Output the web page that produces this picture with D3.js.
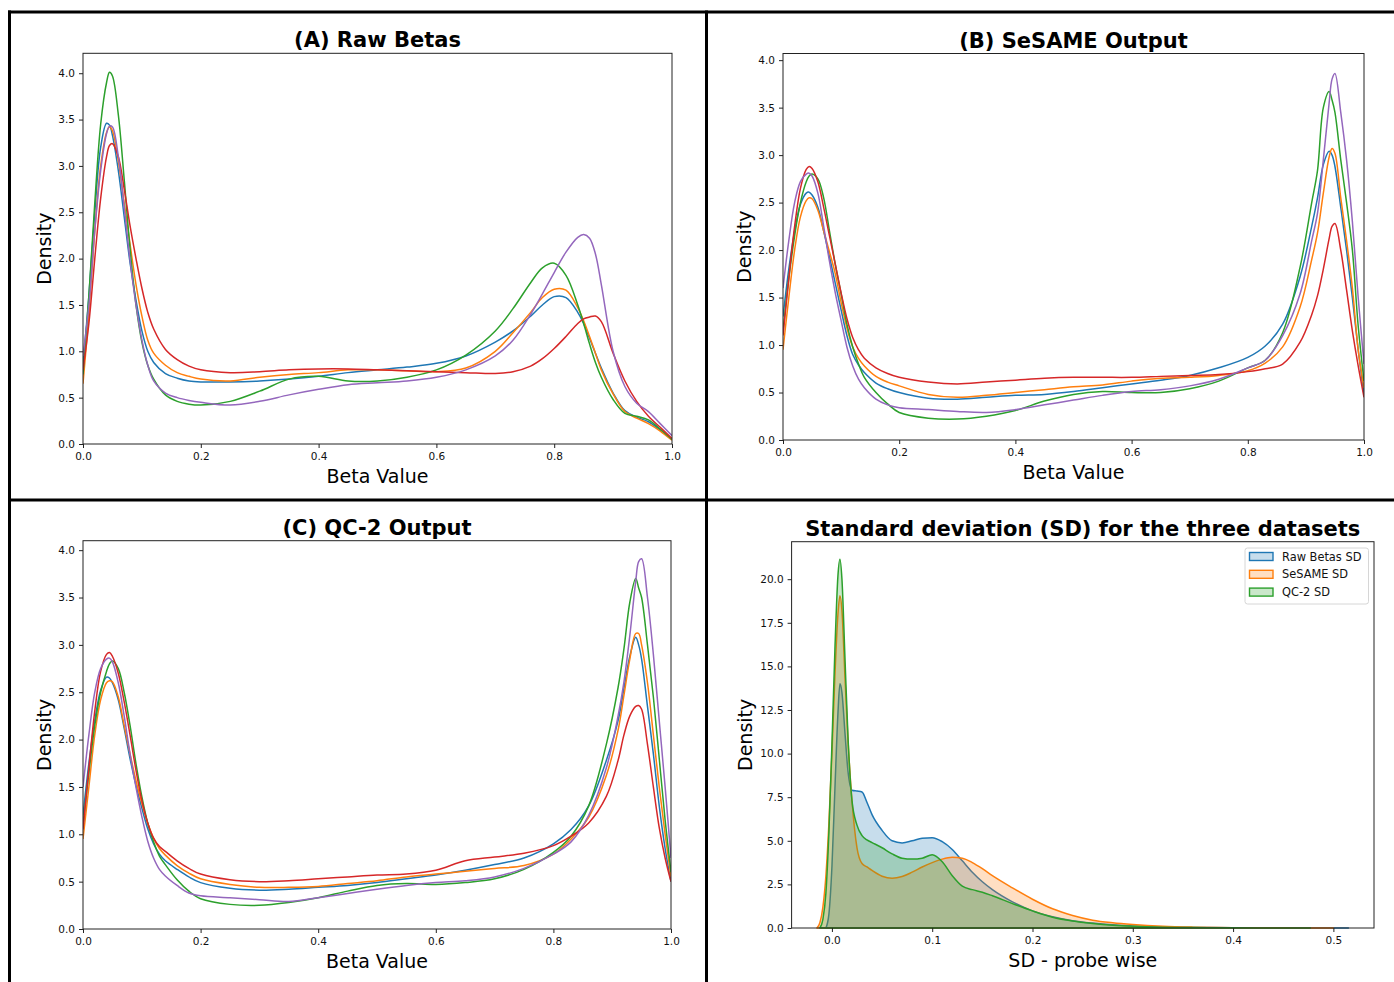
<!DOCTYPE html>
<html>
<head>
<meta charset="utf-8">
<script src="https://cdn.jsdelivr.net/npm/d3@7"></script>
<style>
  html, body { margin: 0; padding: 0; background: #fff; }
  svg { display: block; font-family: "DejaVu Sans", sans-serif; }
</style>
</head>
<body>
<svg id="fig" width="1394" height="982"></svg>
<script>
// ---- Beta-value density estimates (five samples per dataset) ----
const betaGridRaw = [0, 0.01, 0.02, 0.03, 0.04, 0.045, 0.05, 0.06, 0.07, 0.08, 0.09, 0.10, 0.11, 0.12, 0.14, 0.16, 0.18, 0.20,
  0.25, 0.30, 0.35, 0.40, 0.45, 0.50, 0.55, 0.60, 0.65, 0.70, 0.73, 0.76, 0.78, 0.80, 0.82, 0.84, 0.85, 0.86, 0.87, 0.88,
  0.90, 0.92, 0.94, 0.96, 0.98, 1.00];
const rawBlue   = [0.85, 1.6, 2.5, 3.2, 3.46, 3.44, 3.33, 2.95, 2.45, 1.95, 1.55, 1.22, 1.0, 0.88, 0.76, 0.71, 0.68, 0.67, 0.67, 0.68, 0.70, 0.73, 0.77, 0.80, 0.83, 0.87, 0.95, 1.10, 1.22, 1.38, 1.50, 1.59, 1.58, 1.42, 1.30, 1.14, 0.98, 0.82, 0.55, 0.36, 0.29, 0.24, 0.15, 0.05];
const rawOrange = [0.65, 1.4, 2.3, 3.0, 3.36, 3.42, 3.38, 3.05, 2.6, 2.15, 1.72, 1.38, 1.12, 0.98, 0.85, 0.77, 0.73, 0.70, 0.68, 0.72, 0.75, 0.77, 0.80, 0.80, 0.79, 0.78, 0.82, 1.0, 1.20, 1.42, 1.58, 1.67, 1.66, 1.47, 1.33, 1.16, 0.98, 0.80, 0.54, 0.35, 0.28, 0.22, 0.14, 0.04];
const rawGreen  = [0.75, 1.6, 2.6, 3.45, 3.9, 4.01, 3.97, 3.55, 2.85, 2.1, 1.5, 1.1, 0.85, 0.7, 0.53, 0.46, 0.43, 0.42, 0.46, 0.57, 0.70, 0.73, 0.68, 0.68, 0.72, 0.80, 0.96, 1.22, 1.46, 1.74, 1.90, 1.95, 1.82, 1.50, 1.30, 1.08, 0.88, 0.72, 0.48, 0.33, 0.30, 0.26, 0.16, 0.05];
const rawRed    = [0.8, 1.3, 2.0, 2.65, 3.1, 3.22, 3.24, 3.1, 2.75, 2.35, 2.0, 1.68, 1.42, 1.24, 1.02, 0.91, 0.84, 0.80, 0.77, 0.78, 0.80, 0.81, 0.81, 0.80, 0.79, 0.78, 0.77, 0.76, 0.78, 0.84, 0.92, 1.03, 1.16, 1.30, 1.35, 1.37, 1.38, 1.32, 0.98, 0.68, 0.46, 0.30, 0.18, 0.06];
const rawPurple = [0.95, 1.5, 2.3, 2.95, 3.35, 3.43, 3.42, 3.1, 2.55, 1.98, 1.5, 1.12, 0.85, 0.68, 0.55, 0.5, 0.47, 0.45, 0.42, 0.46, 0.53, 0.59, 0.64, 0.66, 0.68, 0.72, 0.80, 0.95, 1.12, 1.40, 1.62, 1.85, 2.07, 2.23, 2.26, 2.22, 2.05, 1.72, 1.0, 0.62, 0.44, 0.35, 0.22, 0.09];

const betaGridNorm = [0, 0.01, 0.02, 0.03, 0.04, 0.045, 0.05, 0.06, 0.07, 0.08, 0.09, 0.10, 0.11, 0.12, 0.13, 0.14, 0.16, 0.18, 0.20,
  0.25, 0.30, 0.35, 0.40, 0.45, 0.50, 0.55, 0.60, 0.65, 0.70, 0.75, 0.80, 0.83, 0.86, 0.89, 0.91, 0.92, 0.93, 0.94, 0.945,
  0.95, 0.96, 0.97, 0.98, 0.99, 1.0];
const sesameBlue   = [1.3, 1.8, 2.2, 2.48, 2.6, 2.61, 2.58, 2.45, 2.2, 1.93, 1.65, 1.37, 1.1, 0.9, 0.79, 0.71, 0.6, 0.54, 0.5, 0.44, 0.43, 0.45, 0.47, 0.48, 0.51, 0.55, 0.59, 0.63, 0.68, 0.76, 0.87, 0.99, 1.22, 1.72, 2.25, 2.55, 2.9, 3.04, 3.0, 2.88, 2.45, 2.0, 1.5, 0.95, 0.48];
const sesameOrange = [0.95, 1.5, 2.0, 2.35, 2.52, 2.55, 2.54, 2.42, 2.2, 1.98, 1.75, 1.45, 1.18, 0.98, 0.86, 0.78, 0.67, 0.61, 0.57, 0.48, 0.45, 0.47, 0.50, 0.53, 0.56, 0.58, 0.62, 0.65, 0.66, 0.68, 0.73, 0.81, 0.98, 1.4, 1.9, 2.18, 2.6, 2.98, 3.07, 3.02, 2.55, 2.1, 1.6, 0.95, 0.55];
const sesameGreen  = [1.15, 1.7, 2.15, 2.5, 2.72, 2.78, 2.8, 2.75, 2.55, 2.2, 1.85, 1.54, 1.22, 0.98, 0.8, 0.66, 0.5, 0.38, 0.29, 0.23, 0.22, 0.25, 0.31, 0.41, 0.48, 0.51, 0.50, 0.50, 0.54, 0.62, 0.76, 0.84, 1.13, 1.82, 2.5, 2.84, 3.5, 3.67, 3.58, 3.45, 2.95, 2.5, 2.0, 1.2, 0.62];
const sesameRed    = [1.1, 1.7, 2.25, 2.65, 2.85, 2.88, 2.86, 2.72, 2.45, 2.15, 1.85, 1.55, 1.28, 1.08, 0.95, 0.86, 0.76, 0.7, 0.66, 0.61, 0.59, 0.61, 0.63, 0.65, 0.66, 0.66, 0.66, 0.67, 0.68, 0.69, 0.72, 0.75, 0.80, 1.03, 1.32, 1.52, 1.8, 2.12, 2.25, 2.28, 2.0, 1.58, 1.15, 0.78, 0.45];
const sesamePurple = [1.6, 2.1, 2.5, 2.72, 2.8, 2.81, 2.78, 2.6, 2.25, 1.88, 1.55, 1.26, 0.98, 0.78, 0.64, 0.55, 0.43, 0.37, 0.34, 0.32, 0.30, 0.29, 0.32, 0.37, 0.42, 0.47, 0.51, 0.53, 0.57, 0.64, 0.76, 0.84, 1.1, 1.54, 2.1, 2.39, 2.95, 3.55, 3.8, 3.86, 3.45, 2.95, 2.3, 1.5, 0.8];

const qcBlue   = [1.2, 1.75, 2.2, 2.52, 2.66, 2.65, 2.6, 2.42, 2.12, 1.8, 1.52, 1.28, 1.06, 0.9, 0.79, 0.72, 0.63, 0.55, 0.49, 0.43, 0.41, 0.42, 0.44, 0.46, 0.49, 0.53, 0.57, 0.62, 0.68, 0.75, 0.9, 1.05, 1.3, 1.78, 2.2, 2.54, 2.88, 3.08, 3.0, 2.85, 2.35, 1.85, 1.3, 0.85, 0.5];
const qcOrange = [0.95, 1.5, 2.05, 2.42, 2.6, 2.62, 2.61, 2.45, 2.15, 1.85, 1.57, 1.33, 1.12, 0.96, 0.85, 0.78, 0.67, 0.59, 0.53, 0.47, 0.44, 0.44, 0.45, 0.48, 0.51, 0.55, 0.58, 0.61, 0.64, 0.67, 0.79, 0.95, 1.18, 1.62, 2.1, 2.47, 2.85, 3.12, 3.12, 3.0, 2.6, 2.05, 1.5, 1.0, 0.55];
const qcGreen  = [1.1, 1.65, 2.15, 2.5, 2.72, 2.8, 2.83, 2.75, 2.5, 2.15, 1.75, 1.4, 1.12, 0.92, 0.77, 0.68, 0.52, 0.4, 0.32, 0.26, 0.25, 0.28, 0.33, 0.4, 0.46, 0.48, 0.47, 0.49, 0.53, 0.63, 0.81, 0.98, 1.3, 1.95, 2.55, 2.96, 3.45, 3.7, 3.6, 3.5, 3.0, 2.45, 1.8, 1.15, 0.6];
const qcRed    = [1.05, 1.7, 2.3, 2.72, 2.9, 2.92, 2.88, 2.7, 2.4, 2.05, 1.68, 1.36, 1.12, 0.96, 0.87, 0.82, 0.72, 0.64, 0.58, 0.52, 0.50, 0.51, 0.53, 0.55, 0.57, 0.58, 0.62, 0.72, 0.76, 0.80, 0.88, 0.98, 1.12, 1.4, 1.78, 2.05, 2.25, 2.35, 2.36, 2.32, 1.95, 1.5, 1.07, 0.75, 0.5];
const qcPurple = [1.5, 2.05, 2.5, 2.75, 2.85, 2.86, 2.82, 2.6, 2.25, 1.85, 1.5, 1.19, 0.93, 0.75, 0.63, 0.56, 0.46, 0.38, 0.35, 0.33, 0.31, 0.29, 0.33, 0.375, 0.42, 0.46, 0.49, 0.51, 0.55, 0.64, 0.79, 0.92, 1.2, 1.7, 2.25, 2.61, 3.1, 3.67, 3.88, 3.91, 3.5, 2.9, 2.2, 1.5, 0.75];

// ---- Probe-wise standard deviation densities (null = outside the estimate's support) ----
const sdGrid = [-0.015, -0.012, -0.009, -0.006, -0.003, 0, 0.003, 0.006, 0.008, 0.010, 0.013, 0.016, 0.02, 0.025, 0.03,
  0.035, 0.04, 0.05, 0.06, 0.07, 0.08, 0.09, 0.10, 0.11, 0.12, 0.13, 0.14, 0.15, 0.16, 0.18, 0.20, 0.22, 0.24, 0.26, 0.28,
  0.30, 0.33, 0.36, 0.40, 0.45, 0.477, 0.50, 0.515];
const sdRaw    = [null, null, null, 0, 0.8, 3.5, 8.0, 12.3, 14.0, 13.5, 11.2, 9.0, 7.9, 7.85, 7.8, 7.2, 6.5, 5.6, 5.0, 4.88, 5.0, 5.15, 5.18, 4.95, 4.5, 3.85, 3.2, 2.65, 2.2, 1.5, 0.98, 0.65, 0.42, 0.28, 0.18, 0.12, 0.06, 0.03, 0.015, 0.005, 0.002, 0.001, 0];
const sdSesame = [0, 0.3, 1.2, 3.0, 6.0, 10.0, 14.5, 18.0, 19.05, 18.2, 14.4, 10.8, 7.3, 4.6, 3.7, 3.5, 3.3, 2.97, 2.85, 2.95, 3.2, 3.5, 3.75, 3.95, 4.05, 4.0, 3.75, 3.4, 3.0, 2.3, 1.65, 1.1, 0.72, 0.45, 0.3, 0.2, 0.1, 0.05, 0.02, 0.008, 0.003, 0, null];
const sdQc     = [null, 0, 0.5, 2.0, 5.5, 10.5, 16.0, 20.2, 21.15, 20.0, 15.5, 11.0, 7.3, 5.9, 5.3, 5.05, 4.9, 4.6, 4.25, 4.0, 3.95, 4.0, 4.2, 3.8, 3.0, 2.4, 2.2, 2.05, 1.85, 1.4, 0.98, 0.62, 0.4, 0.26, 0.16, 0.1, 0.05, 0.025, 0.01, 0.003, 0, null, null];

// ---- Labels and ticks ----
const panelTitles = ['(A) Raw Betas', '(B) SeSAME Output', '(C) QC-2 Output', 'Standard deviation (SD) for the three datasets'];
const sdLegendLabels = ['Raw Betas SD', 'SeSAME SD', 'QC-2 SD'];
const betaTicksX = [0, 0.2, 0.4, 0.6, 0.8, 1.0];
const betaTicksY = [0, 0.5, 1.0, 1.5, 2.0, 2.5, 3.0, 3.5, 4.0];
const sdTicksX = [0, 0.1, 0.2, 0.3, 0.4, 0.5];
const sdTicksY = [0, 2.5, 5, 7.5, 10, 12.5, 15, 17.5, 20];

const palette = ['#1f77b4', '#ff7f0e', '#2ca02c', '#d62728', '#9467bd'];
const svg = d3.select('#fig');
const fmt1 = d3.format('.1f');

function drawAxes(g, x, y, box, xTicks, yTicks) {
  const xAxis = g.append('g').attr('transform', `translate(0,${box.bottom})`)
    .call(d3.axisBottom(x).tickValues(xTicks).tickFormat(fmt1).tickSize(4).tickPadding(4.5));
  const yAxis = g.append('g').attr('transform', `translate(${box.left},0)`)
    .call(d3.axisLeft(y).tickValues(yTicks).tickFormat(fmt1).tickSize(4).tickPadding(4));
  [xAxis, yAxis].forEach(a => {
    a.select('.domain').remove();
    a.selectAll('line').attr('stroke', '#222').attr('stroke-width', 1);
    a.selectAll('text').attr('font-size', 10.5).attr('fill', '#111').attr('font-family', '"DejaVu Sans", sans-serif');
  });
}

function drawFrame(g, box) {
  g.append('rect')
    .attr('x', box.left).attr('y', box.top)
    .attr('width', box.right - box.left).attr('height', box.bottom - box.top)
    .attr('fill', 'none').attr('stroke', '#222').attr('stroke-width', 1);
}

function drawLabels(g, box, title, xLabel, yLabelOffset) {
  const cx = (box.left + box.right) / 2;
  g.append('text').attr('x', cx).attr('y', box.top - 6)
    .attr('text-anchor', 'middle').attr('font-size', 21).attr('font-weight', 'bold').attr('fill', '#000')
    .text(title);
  g.append('text').attr('x', cx).attr('y', box.bottom + 39)
    .attr('text-anchor', 'middle').attr('font-size', 19).attr('fill', '#000')
    .text(xLabel);
  const cy = (box.top + box.bottom) / 2;
  g.append('text')
    .attr('transform', `translate(${box.left - yLabelOffset},${cy}) rotate(-90)`)
    .attr('text-anchor', 'middle').attr('font-size', 19).attr('fill', '#000')
    .text('Density');
}

function betaPanel(box, yMax, title, grid, seriesList) {
  const g = svg.append('g');
  const x = d3.scaleLinear().domain([0, 1]).range([box.left, box.right]);
  const y = d3.scaleLinear().domain([0, yMax]).range([box.bottom, box.top]);
  const clipId = 'clip' + Math.round(box.left) + '_' + Math.round(box.top);
  g.append('clipPath').attr('id', clipId).append('rect')
    .attr('x', box.left).attr('y', box.top).attr('width', box.right - box.left).attr('height', box.bottom - box.top);
  const line = d3.line().x(d => x(d[0])).y(d => y(d[1])).curve(d3.curveCatmullRom.alpha(0.5));
  const plot = g.append('g').attr('clip-path', `url(#${clipId})`);
  seriesList.forEach((vals, i) => {
    plot.append('path')
      .datum(grid.map((gx, j) => [gx, vals[j]]))
      .attr('d', line).attr('fill', 'none')
      .attr('stroke', palette[i]).attr('stroke-width', 1.5).attr('stroke-linejoin', 'round');
  });
  drawFrame(g, box);
  drawAxes(g, x, y, box, betaTicksX, betaTicksY);
  drawLabels(g, box, title, 'Beta Value', 32.5);
}

function sdPanel(box) {
  const g = svg.append('g');
  const x = d3.scaleLinear().domain([-0.0402, 0.5405]).range([box.left, box.right]);
  const y = d3.scaleLinear().domain([0, 22.15]).range([box.bottom, box.top]);
  const area = d3.area().defined(d => d[1] !== null)
    .x(d => x(d[0])).y0(y(0)).y1(d => y(d[1])).curve(d3.curveMonotoneX);
  [sdRaw, sdSesame, sdQc].forEach((vals, i) => {
    g.append('path')
      .datum(sdGrid.map((gx, j) => [gx, vals[j]]))
      .attr('d', d => area(d) + 'Z')
      .attr('fill', palette[i]).attr('fill-opacity', 0.25)
      .attr('stroke', palette[i]).attr('stroke-width', 1.5).attr('stroke-linejoin', 'round');
  });
  drawFrame(g, box);
  drawAxes(g, x, y, box, sdTicksX, sdTicksY);
  drawLabels(g, box, panelTitles[3], 'SD - probe wise', 39.5);

  // legend
  const lg = g.append('g');
  lg.append('rect').attr('x', 1245).attr('y', 548).attr('width', 123.5).attr('height', 56).attr('rx', 2.5)
    .attr('fill', '#fff').attr('fill-opacity', 0.8).attr('stroke', '#d6d6d6').attr('stroke-width', 1);
  sdLegendLabels.forEach((lab, i) => {
    const yy = 556.5 + i * 17.8;
    lg.append('rect').attr('x', 1249.5).attr('y', yy - 4).attr('width', 23.5).attr('height', 8)
      .attr('fill', palette[i]).attr('fill-opacity', 0.25).attr('stroke', palette[i]).attr('stroke-width', 1.4);
    lg.append('text').attr('x', 1282).attr('y', yy + 4).attr('font-size', 11.4).attr('fill', '#111').text(lab);
  });
}

betaPanel({ left: 83, right: 672, top: 53.3, bottom: 444 }, 4.215, panelTitles[0], betaGridRaw,
  [rawBlue, rawOrange, rawGreen, rawRed, rawPurple]);
betaPanel({ left: 783, right: 1364, top: 53.5, bottom: 440 }, 4.07, panelTitles[1], betaGridNorm,
  [sesameBlue, sesameOrange, sesameGreen, sesameRed, sesamePurple]);
betaPanel({ left: 83, right: 671, top: 540.7, bottom: 929 }, 4.1, panelTitles[2], betaGridNorm,
  [qcBlue, qcOrange, qcGreen, qcRed, qcPurple]);
sdPanel({ left: 791.6, right: 1374, top: 541.7, bottom: 928 });

// separating frame lines around the four panels
const frame = svg.append('g').attr('stroke', '#000').attr('stroke-width', 3);
frame.append('line').attr('x1', 8).attr('x2', 1394).attr('y1', 12).attr('y2', 12);
frame.append('line').attr('x1', 9.5).attr('x2', 9.5).attr('y1', 10.5).attr('y2', 982);
frame.append('line').attr('x1', 706.5).attr('x2', 706.5).attr('y1', 10.5).attr('y2', 982);
frame.append('line').attr('x1', 8).attr('x2', 1394).attr('y1', 500).attr('y2', 500);
</script>
</body>
</html>
